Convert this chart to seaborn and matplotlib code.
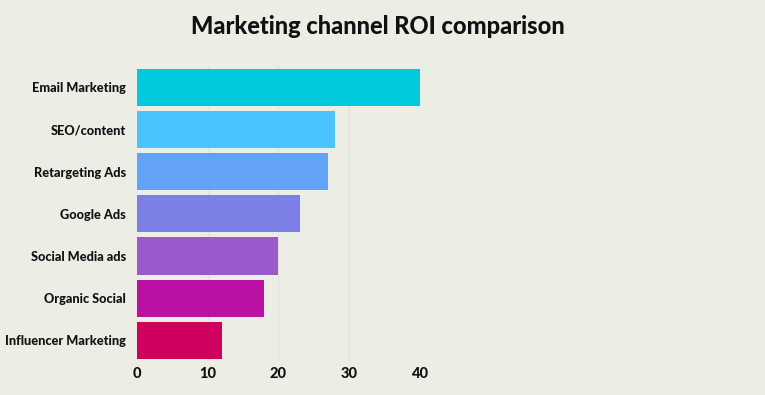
import matplotlib
matplotlib.use("Agg")
import matplotlib.pyplot as plt
import seaborn as sns
import pandas as pd

# values
channels = ["Email Marketing", "SEO/content", "Retargeting Ads", "Google Ads",
            "Social Media ads", "Organic Social", "Influencer Marketing"]
roi = [40, 28, 27, 23, 20, 18, 12]
bar_colors = ["#00C9DB", "#4AC4FF", "#62A3F9", "#7C7FE5", "#9B59CC", "#BA10A3", "#D0005E"]
x_ticks = [0, 10, 20, 30, 40]

bg = "#ECEEE6"

sns.set_theme(style="white")
plt.rcParams["font.family"] = ["Lato", "DejaVu Sans"]

df = pd.DataFrame({"channel": channels, "roi": roi})

fig = plt.figure(figsize=(7.65, 3.95), dpi=100, facecolor=bg)
ax = fig.add_axes([0.179, 0.085, 0.370, 0.747], facecolor=bg)

# faint vertical grid lines behind the bars
for x in x_ticks[1:-1]:
    ax.axvline(x, color="#E2E4DC", lw=1, zorder=0)

sns.barplot(data=df, x="roi", y="channel", hue="channel", palette=bar_colors,
            legend=False, width=0.88, saturation=1, linewidth=0, ax=ax, zorder=2)

ax.set_xlim(0, 40)
ax.set_xticks(x_ticks)
ax.set_xlabel("")
ax.set_ylabel("")
for s in ax.spines.values():
    s.set_visible(False)
ax.tick_params(axis="both", length=0, colors="#111111")
ax.tick_params(axis="y", pad=8, labelsize=9.2)
ax.tick_params(axis="x", pad=4, labelsize=10.5)
for lbl in ax.get_xticklabels() + ax.get_yticklabels():
    lbl.set_fontweight("black")

fig.suptitle("Marketing channel ROI comparison", x=0.494, y=0.962,
             fontsize=17, fontweight="black", color="#111111")

fig.savefig("out.png", dpi=100, facecolor=bg)
